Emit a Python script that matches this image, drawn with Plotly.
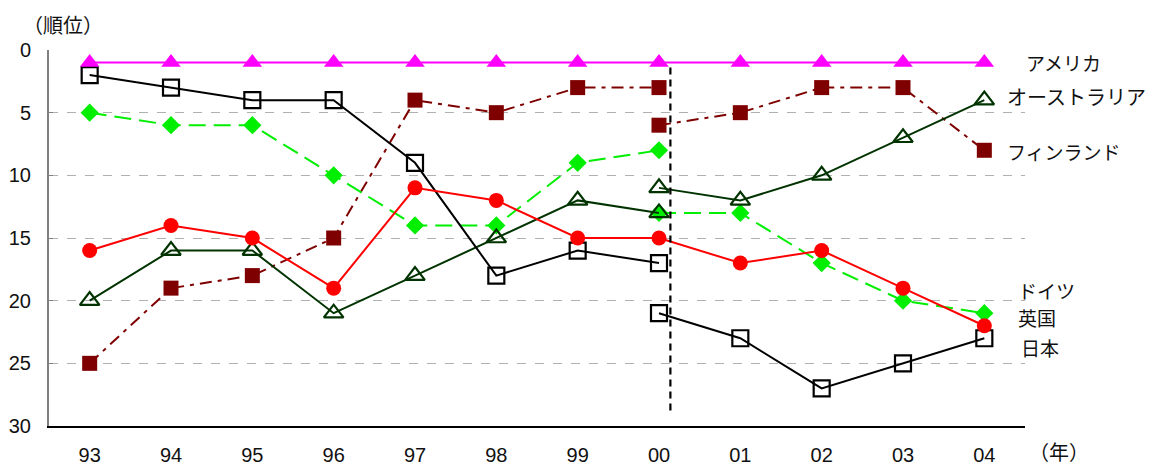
import plotly.graph_objects as go

years = ["93", "94", "95", "96", "97", "98", "99", "00", "01", "02", "03", "04"]
pre_years = years[:8]
post_years = years[7:]

america = [1] * 12
japan_pre = [2, 3, 4, 4, 9, 18, 16, 17]
japan_post = [21, 23, 27, 25, 23]
finland_pre = [25, 19, 18, 15, 4, 5, 3, 3]
finland_post = [6, 5, 3, 3, 8]
germany_pre = [5, 6, 6, 10, 14, 14, 9, 8]
germany_post = [13, 13, 17, 20, 21]
uk = [16, 14, 15, 19, 11, 12, 15, 15, 17, 16, 19, 22]
australia_pre = [20, 16, 16, 21, 18, 15, 12, 13]
australia_post = [11, 12, 10, 7, 4]

labels = ["アメリカ", "オーストラリア", "フィンランド", "ドイツ", "英国", "日本"]

JP = "Noto Sans CJK JP"
NUM = "Liberation Sans, Arial"

W, H = 1152, 466
PL, PR, PT, PB = 49, 1025, 50, 426

def px(xp):
    return (xp - PL) / (PR - PL)

def py(yp):
    return (PB - yp) / (PB - PT)

label_pos = [(1024, 62), (1005, 96), (1005, 151), (1016, 290), (1016, 317), (1019, 347)]
label_size = [19, 20, 19, 19, 19, 19]

fig = go.Figure()

def add(x, y, color, symbol, size, dash="solid", width=2, mline=None):
    fig.add_trace(go.Scatter(
        x=x, y=y, mode="lines+markers",
        line=dict(color=color, width=width, dash=dash),
        marker=dict(symbol=symbol, size=size, color=color,
                    line=dict(color=color, width=mline if mline else 0)),
        showlegend=False, hoverinfo="skip", cliponaxis=False))

fd = "12px,6px,4px,6px"
add(pre_years, finland_pre, "#7f0000", "square", 15, fd)
add(post_years, finland_post, "#7f0000", "square", 15, fd)
gd = "17px,8px"
add(pre_years, germany_pre, "#00ee00", "diamond", 14, gd)
add(post_years, germany_post, "#00ee00", "diamond", 14, gd)
add(pre_years, australia_pre, "#003300", "triangle-up-open", 17, mline=2.2)
add(post_years, australia_post, "#003300", "triangle-up-open", 17, mline=2.2)
add(pre_years, japan_pre, "#000000", "square-open", 16, mline=2.2)
add(post_years, japan_post, "#000000", "square-open", 16, mline=2.2)
add(years, uk, "#ff0000", "circle", 15)
add(years, america, "#ff00ff", "triangle-up", 17)

fig.add_shape(type="line", xref="x", yref="y", x0=7.14, x1=7.14, y0=1.4, y1=28.8,
              line=dict(color="black", width=2.2, dash="7px,5px"))

for t, (lx, ly), s in zip(labels, label_pos, label_size):
    fig.add_annotation(x=px(lx), y=py(ly), xref="paper", yref="paper", text=t,
                       showarrow=False, xanchor="left", yanchor="middle",
                       font=dict(family=JP, size=s, color="#111"))

fig.add_annotation(x=px(63), y=py(24), xref="paper", yref="paper",
                   text="（順位）", showarrow=False, xanchor="center", yanchor="middle",
                   font=dict(family=JP, size=20, color="#111"))
fig.add_annotation(x=px(1059), y=py(451), xref="paper", yref="paper",
                   text="（年）", showarrow=False, xanchor="center", yanchor="middle",
                   font=dict(family=JP, size=20, color="#111"))

fig.update_xaxes(type="category", categoryorder="array", categoryarray=years,
                 range=[-0.5, 11.5], showgrid=False, showline=True, linecolor="black",
                 linewidth=1.5, ticks="", ticklabelstandoff=10, automargin=False,
                 tickfont=dict(family=NUM, size=20, color="#111"), zeroline=False)
fig.update_yaxes(range=[30, 0], tickvals=[0, 5, 10, 15, 20, 25, 30],
                 showgrid=True, gridcolor="#b0b0b0", griddash="dash", gridwidth=1,
                 showline=True, linecolor="#808080", linewidth=2, ticks="inside",
                 ticklen=4, tickcolor="#808080", ticklabelstandoff=12, automargin=False,
                 tickfont=dict(family=NUM, size=20, color="#111"), zeroline=False)

fig.update_layout(width=W, height=H, margin=dict(l=PL, r=W - PR, t=PT, b=H - PB),
                  plot_bgcolor="white", paper_bgcolor="white")

fig.write_html("out.html", config={"displayModeBar": False},
               post_script="document.body.style.margin='0';document.body.style.padding='0';")
